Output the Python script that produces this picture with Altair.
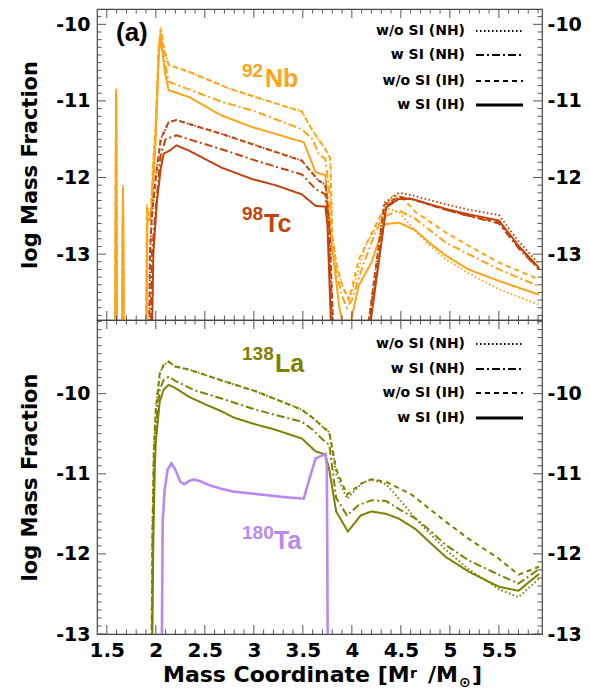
import altair as alt
import pandas as pd

# ---------------- data ----------------
variants = ["w/o SI (NH)", "w SI (NH)", "w/o SI (IH)", "w SI (IH)"]
dashes = [[1.5, 2.5], [8, 3, 2, 3], [5, 4], [1, 0]]
isotopes = ["Nb", "Tc", "La", "Ta"]
iso_colors = ["#FFA31A", "#C1440E", "#7F7F00", "#BB88F0"]

# 92Nb (top panel)
nb_dot_x = [1.585, 1.595, 1.605, 1.655, 1.665, 1.675, 1.90, 1.91, 1.93, 1.95, 1.97, 2.0, 2.03, 2.05, 2.08, 2.13,
            2.34, 2.75, 3.02, 3.49, 3.59, 3.73, 3.78, 3.80, 3.84, 3.90, 3.97, 4.0, 4.14, 4.27, 4.35, 4.48, 4.65,
            4.79, 4.96, 5.19, 5.5, 5.91]
nb_dot_y = [-14.5, -10.84, -14.5, -14.5, -12.1, -14.5, -14.5, -12.35, -12.5, -12.45, -11.9, -11.3, -10.3, -10.04,
            -10.3, -10.53, -10.62, -10.84, -10.95, -11.14, -11.37, -11.63, -11.75, -12.76, -13.11, -13.41, -13.59,
            -13.5, -12.89, -12.59, -12.4, -12.45, -12.7, -12.88, -13.07, -13.25, -13.46, -13.66]
nb_dd_x = [1.585, 1.595, 1.605, 1.655, 1.665, 1.675, 1.90, 1.91, 1.93, 1.95, 1.97, 2.0, 2.03, 2.05, 2.08, 2.13,
           2.34, 2.67, 3.02, 3.49, 3.6, 3.66, 3.73, 3.77, 3.80, 3.85, 3.90, 3.95, 4.0, 4.1, 4.2, 4.3, 4.35, 4.48,
           4.65, 4.96, 5.19, 5.5, 5.91]
nb_dd_y = [-14.5, -10.86, -14.5, -14.5, -12.12, -14.5, -14.5, -12.4, -12.55, -12.5, -12.0, -11.35, -10.35, -10.1,
           -10.4, -10.75, -10.85, -11.01, -11.14, -11.37, -11.5, -11.69, -11.76, -12.2, -12.9, -13.3, -13.55, -13.7,
           -13.6, -13.2, -12.85, -12.55, -12.5, -12.43, -12.54, -12.85, -13.0, -13.2, -13.42]
nb_dash_x = [1.585, 1.595, 1.605, 1.655, 1.665, 1.675, 1.90, 1.91, 1.93, 1.95, 1.97, 2.0, 2.03, 2.05, 2.08, 2.13,
             2.34, 2.75, 3.02, 3.49, 3.59, 3.73, 3.78, 3.80, 3.84, 3.90, 3.97, 4.07, 4.27, 4.41, 4.5, 4.65, 4.96,
             5.19, 5.5, 5.91]
nb_dash_y = [-14.5, -10.86, -14.5, -14.5, -12.12, -14.5, -14.5, -12.38, -12.5, -12.45, -11.9, -11.3, -10.3, -10.06,
             -10.3, -10.53, -10.62, -10.84, -10.95, -11.14, -11.37, -11.63, -11.75, -12.76, -13.11, -13.41, -13.6,
             -13.07, -12.55, -12.24, -12.25, -12.45, -12.72, -12.89, -13.11, -13.33]
nb_sol_x = [1.585, 1.595, 1.605, 1.655, 1.665, 1.675, 1.90, 1.915, 1.946, 1.97, 2.0, 2.03, 2.05, 2.09, 2.13, 2.34,
            2.67, 2.98, 3.22, 3.51, 3.63, 3.73, 3.77, 3.87, 3.92, 3.97, 4.07, 4.2, 4.33, 4.48, 4.65, 4.79, 4.96,
            5.19, 5.5, 5.91]
nb_sol_y = [-14.5, -10.9, -14.5, -14.5, -12.14, -14.5, -14.5, -12.55, -12.55, -12.2, -11.45, -10.4, -10.18, -10.6,
            -10.86, -10.95, -11.19, -11.34, -11.43, -11.54, -11.93, -11.97, -12.6, -13.67, -14.0, -14.0, -13.41,
            -13.11, -12.61, -12.59, -12.69, -12.85, -13.02, -13.2, -13.35, -13.53]

# 98Tc (top panel)
tc_dot_x = [1.93, 1.94, 1.96, 2.0, 2.05, 2.13, 2.21, 2.67, 3.02, 3.49, 3.66, 3.73, 3.77, 3.81, 4.15, 4.17, 4.33,
            4.48, 4.61, 4.96, 5.19, 5.5, 5.7, 5.91]
tc_dot_y = [-14.5, -13.0, -12.5, -12.0, -11.5, -11.28, -11.25, -11.43, -11.58, -11.78, -12.04, -12.09, -12.6, -14.0,
            -14.0, -13.9, -12.33, -12.2, -12.23, -12.35, -12.42, -12.49, -12.83, -13.13]
tc_dd_x = [1.945, 1.96, 2.0, 2.05, 2.1, 2.21, 2.67, 3.02, 3.49, 3.63, 3.73, 3.76, 3.8, 4.16, 4.18, 4.35, 4.48, 4.61,
           4.96, 5.19, 5.5, 5.7, 5.91]
tc_dd_y = [-14.5, -13.0, -12.4, -11.7, -11.5, -11.45, -11.63, -11.78, -11.96, -12.15, -12.22, -12.6, -14.0, -14.0,
           -13.9, -12.38, -12.26, -12.28, -12.42, -12.5, -12.6, -12.92, -13.2]
tc_dash_x = [1.93, 1.94, 1.96, 2.0, 2.05, 2.13, 2.21, 2.67, 3.02, 3.49, 3.66, 3.73, 3.77, 3.81, 4.15, 4.17, 4.33,
             4.48, 4.61, 4.96, 5.19, 5.5, 5.7, 5.91]
tc_dash_y = [-14.5, -13.0, -12.5, -12.0, -11.5, -11.28, -11.25, -11.43, -11.58, -11.78, -12.04, -12.09, -12.6, -14.0,
             -14.0, -13.9, -12.36, -12.25, -12.28, -12.42, -12.5, -12.58, -12.9, -13.2]
tc_sol_x = [1.955, 1.975, 2.01, 2.05, 2.08, 2.15, 2.21, 2.34, 2.67, 2.98, 3.22, 3.49, 3.63, 3.73, 3.75, 3.79, 4.17,
            4.19, 4.35, 4.48, 4.61, 4.96, 5.19, 5.5, 5.7, 5.91]
tc_sol_y = [-14.5, -13.0, -12.33, -11.89, -11.69, -11.64, -11.58, -11.65, -11.87, -12.02, -12.1, -12.22, -12.37,
            -12.38, -12.6, -14.0, -14.0, -13.9, -12.39, -12.28, -12.28, -12.41, -12.48, -12.56, -12.89, -13.18]

# 138La (bottom panel)
la_dot_x = [1.955, 1.965, 1.98, 2.0, 2.04, 2.08, 2.13, 2.2, 2.34, 2.61, 3.02, 3.49, 3.6, 3.7, 3.77, 3.84, 3.95, 4.1,
            4.2, 4.35, 4.48, 4.65, 4.96, 5.19, 5.5, 5.7, 5.91]
la_dot_y = [-13.5, -11.8, -10.7, -10.2, -9.75, -9.64, -9.6, -9.66, -9.7, -9.81, -9.97, -10.2, -10.3, -10.41, -10.48,
            -11.0, -11.31, -11.12, -11.07, -11.13, -11.31, -11.56, -11.95, -12.19, -12.44, -12.54, -12.31]
la_dd_x = [1.96, 1.97, 1.985, 2.0, 2.04, 2.08, 2.13, 2.2, 2.4, 2.67, 3.02, 3.49, 3.6, 3.7, 3.77, 3.84, 3.95, 4.07,
           4.2, 4.35, 4.48, 4.65, 4.79, 4.96, 5.19, 5.5, 5.7, 5.91]
la_dd_y = [-13.5, -11.8, -10.8, -10.4, -9.95, -9.83, -9.79, -9.84, -9.96, -10.06, -10.2, -10.35, -10.45, -10.57,
           -10.64, -11.3, -11.52, -11.39, -11.33, -11.34, -11.44, -11.56, -11.7, -11.89, -12.08, -12.26, -12.37,
           -12.19]
la_dash_x = [1.955, 1.965, 1.98, 2.0, 2.04, 2.08, 2.13, 2.2, 2.34, 2.61, 3.02, 3.49, 3.6, 3.7, 3.77, 3.84, 3.95,
             4.1, 4.2, 4.35, 4.61, 4.96, 5.19, 5.5, 5.7, 5.91]
la_dash_y = [-13.5, -11.8, -10.7, -10.2, -9.75, -9.64, -9.6, -9.66, -9.7, -9.81, -9.97, -10.2, -10.3, -10.41,
             -10.48, -10.94, -11.26, -11.12, -11.07, -11.1, -11.26, -11.6, -11.81, -12.06, -12.26, -12.16]
la_sol_x = [1.96, 1.975, 1.99, 2.0, 2.04, 2.08, 2.13, 2.2, 2.34, 2.5, 2.67, 2.8, 2.98, 3.22, 3.49, 3.63, 3.73, 3.77,
            3.84, 3.96, 4.09, 4.2, 4.35, 4.48, 4.65, 4.79, 4.96, 5.19, 5.5, 5.70, 5.91]
la_sol_y = [-13.5, -11.8, -10.9, -10.6, -10.1, -9.95, -9.89, -9.93, -10.04, -10.13, -10.22, -10.3, -10.37, -10.45,
            -10.56, -10.72, -10.76, -10.95, -11.47, -11.72, -11.52, -11.47, -11.5, -11.56, -11.69, -11.85, -12.04,
            -12.22, -12.41, -12.46, -12.25]

# 180Ta (bottom panel)
ta_sol_x = [2.06, 2.07, 2.09, 2.12, 2.16, 2.2, 2.25, 2.29, 2.34, 2.39, 2.45, 2.54, 2.65, 2.78, 3.08, 3.3, 3.51,
            3.57, 3.63, 3.73, 3.745, 3.755]
ta_sol_y = [-13.5, -11.6, -11.2, -10.95, -10.87, -10.95, -11.1, -11.13, -11.09, -11.07, -11.09, -11.14, -11.18,
            -11.22, -11.26, -11.29, -11.31, -11.05, -10.81, -10.75, -10.9, -13.5]

x_tick_labels = [1.5, 2.0, 2.5, 3.0, 3.5, 4.0, 4.5, 5.0, 5.5]
y_tick_labels = [-10, -11, -12, -13]

# ---------------- layout ----------------
FONT = "DejaVu Sans"
LFONT = "Liberation Sans"
W = 445
H1 = 311
H2 = 314
XDOM = [1.4, 5.94]
Y1DOM = [-13.86, -9.8]
Y2DOM = [-13.0, -9.08]
TICK = "#555555"
MAJ, MIN = 9, 4.5

one = pd.DataFrame({"a": [0]})

x_minor = [k / 10 for k in range(15, 60) if k % 5]
x_major = x_tick_labels
y1_minor = [k / 10 for k in range(-138, -98) if k % 10]
y2_minor = [k / 10 for k in range(-129, -90) if k % 10]
y_major = y_tick_labels


def make_df(items):
    frames = []
    for iso, var, xs, ys in items:
        assert len(xs) == len(ys), (iso, var)
        frames.append(pd.DataFrame({"x": xs, "y": ys, "iso": iso, "var": var, "i": list(range(len(xs)))}))
    return pd.concat(frames, ignore_index=True)


top_df = make_df([
    ("Nb", variants[0], nb_dot_x, nb_dot_y),
    ("Nb", variants[1], nb_dd_x, nb_dd_y),
    ("Nb", variants[2], nb_dash_x, nb_dash_y),
    ("Nb", variants[3], nb_sol_x, nb_sol_y),
    ("Tc", variants[0], tc_dot_x, tc_dot_y),
    ("Tc", variants[1], tc_dd_x, tc_dd_y),
    ("Tc", variants[2], tc_dash_x, tc_dash_y),
    ("Tc", variants[3], tc_sol_x, tc_sol_y),
])
la_df = make_df([
    ("La", variants[0], la_dot_x, la_dot_y),
    ("La", variants[1], la_dd_x, la_dd_y),
    ("La", variants[2], la_dash_x, la_dash_y),
    ("La", variants[3], la_sol_x, la_sol_y),
])
ta_df = make_df([("Ta", variants[3], ta_sol_x, ta_sol_y)])

color_enc = alt.Color("iso:N", scale=alt.Scale(domain=isotopes, range=iso_colors), legend=None)
dash_enc = alt.StrokeDash("var:N", scale=alt.Scale(domain=variants, range=dashes), legend=None)


def y_axis_left():
    return alt.Axis(values=y_tick_labels, labelExpr="'-' + abs(datum.value)", ticks=False, domain=False,
                    grid=False, labelFont=FONT, labelFontSize=19, labelFontWeight="bold", labelColor="black",
                    labelPadding=7, title="log Mass Fraction", titleFont=FONT, titleFontSize=21,
                    titleFontWeight="bold", titleColor="black", titlePadding=15)


def y_axis_right():
    return alt.Axis(orient="right", values=y_tick_labels, labelExpr="'-' + abs(datum.value)", ticks=False,
                    domain=False, grid=False, labelFont=FONT, labelFontSize=19, labelFontWeight="bold",
                    labelColor="black", labelPadding=5, title=None)


def txt(s, x, y, size, font=FONT, align="left", baseline="alphabetic", color="black"):
    return alt.Chart(one).mark_text(text=s, font=font, fontSize=size, fontWeight="bold", align=align,
                                    baseline=baseline, color=color).encode(x=alt.value(x), y=alt.value(y))


def legend_layers(rows_y):
    out = []
    for lab, dash, yy in zip(variants, dashes, rows_y):
        out.append(txt(lab, 368, yy, 14, align="right", baseline="middle"))
        out.append(alt.Chart(one).mark_rule(color="black", strokeWidth=3 if lab == "w SI (IH)" else 2,
                                            strokeDash=dash).encode(x=alt.value(379), x2=alt.value(426),
                                                                    y=alt.value(yy)))
    return out


def panel(line_layers, ydom, H, y_minor, xaxis, texts):
    X = alt.X("x:Q", scale=alt.Scale(domain=XDOM, nice=False, zero=False), axis=xaxis)
    Y = alt.Y("y:Q", scale=alt.Scale(domain=ydom, nice=False, zero=False), axis=y_axis_left())
    Yr = alt.Y("y:Q", scale=alt.Scale(domain=ydom, nice=False, zero=False), axis=y_axis_right())
    layers = []
    for d, sw in line_layers:
        layers.append(alt.Chart(d).mark_line(clip=True, strokeWidth=sw).encode(
            x=X, y=Y, color=color_enc, strokeDash=dash_enc, order="i:Q"))
    # inward ticks (top/bottom/left)
    for vals, L in [(x_minor, MIN), (x_major, MAJ)]:
        d = pd.DataFrame({"x": vals})
        layers.append(alt.Chart(d).mark_rule(color=TICK, strokeWidth=1).encode(
            x=X, y=alt.value(0), y2=alt.value(L)))
        layers.append(alt.Chart(d).mark_rule(color=TICK, strokeWidth=1).encode(
            x=X, y=alt.value(H), y2=alt.value(H - L)))
    for vals, L in [(y_minor, MIN), (y_major, MAJ)]:
        d = pd.DataFrame({"y": vals})
        layers.append(alt.Chart(d).mark_rule(color=TICK, strokeWidth=1).encode(
            y=Y, x=alt.value(0), x2=alt.value(L)))
    layers.extend(texts)
    main = alt.layer(*layers)
    right = []
    for vals, L in [(y_minor, MIN), (y_major, MAJ)]:
        d = pd.DataFrame({"y": vals})
        right.append(alt.Chart(d).mark_rule(color=TICK, strokeWidth=1).encode(
            y=Yr, x=alt.value(W), x2=alt.value(W - L)))
    return alt.layer(main, alt.layer(*right)).resolve_scale(y="independent").properties(width=W, height=H)


top_texts = [
    txt("(a)", 19, 32, 26, font=LFONT),
    txt("92", 145, 68, 19, font=LFONT, color=iso_colors[0]),
    txt("Nb", 168, 78, 25, font=LFONT, color=iso_colors[0]),
    txt("98", 145, 211, 19, font=LFONT, color=iso_colors[1]),
    txt("Tc", 167, 223, 25, font=LFONT, color=iso_colors[1]),
] + legend_layers([22, 46, 72, 96])

bottom_texts = [
    txt("138", 145, 40, 19, font=LFONT, color=iso_colors[2]),
    txt("La", 178, 52, 25, font=LFONT, color=iso_colors[2]),
    txt("180", 145, 219, 19, font=LFONT, color=iso_colors[3]),
    txt("Ta", 177, 229, 25, font=LFONT, color=iso_colors[3]),
    txt("Mass Coordinate [M", 66, 362, 22),
    txt("r", 313, 358, 14),
    txt("/M", 331, 362, 22),
    txt("\u2299", 362, 367, 14),
    txt("]", 375, 362, 22),
] + legend_layers([24, 49, 73, 98])

bottom_xaxis = alt.Axis(values=x_tick_labels, format="~g", ticks=False, domain=False, grid=False,
                        labelFont=FONT, labelFontSize=20, labelFontWeight="bold", labelColor="black",
                        labelPadding=6, labelFlush=False, title=None)

top = panel([(top_df, 2)], Y1DOM, H1, y1_minor, None, top_texts)
bottom = panel([(la_df, 2), (ta_df, 2.6)], Y2DOM, H2, y2_minor, bottom_xaxis, bottom_texts)

chart = alt.vconcat(top, bottom, spacing=0, bounds="flush").properties(
    padding={"left": 19, "top": 7, "right": 0, "bottom": 2}
).configure_view(stroke="#444444", strokeWidth=1.2).configure_axis(grid=False)

chart.save("out.html", embed_options={"renderer": "svg", "actions": False})
